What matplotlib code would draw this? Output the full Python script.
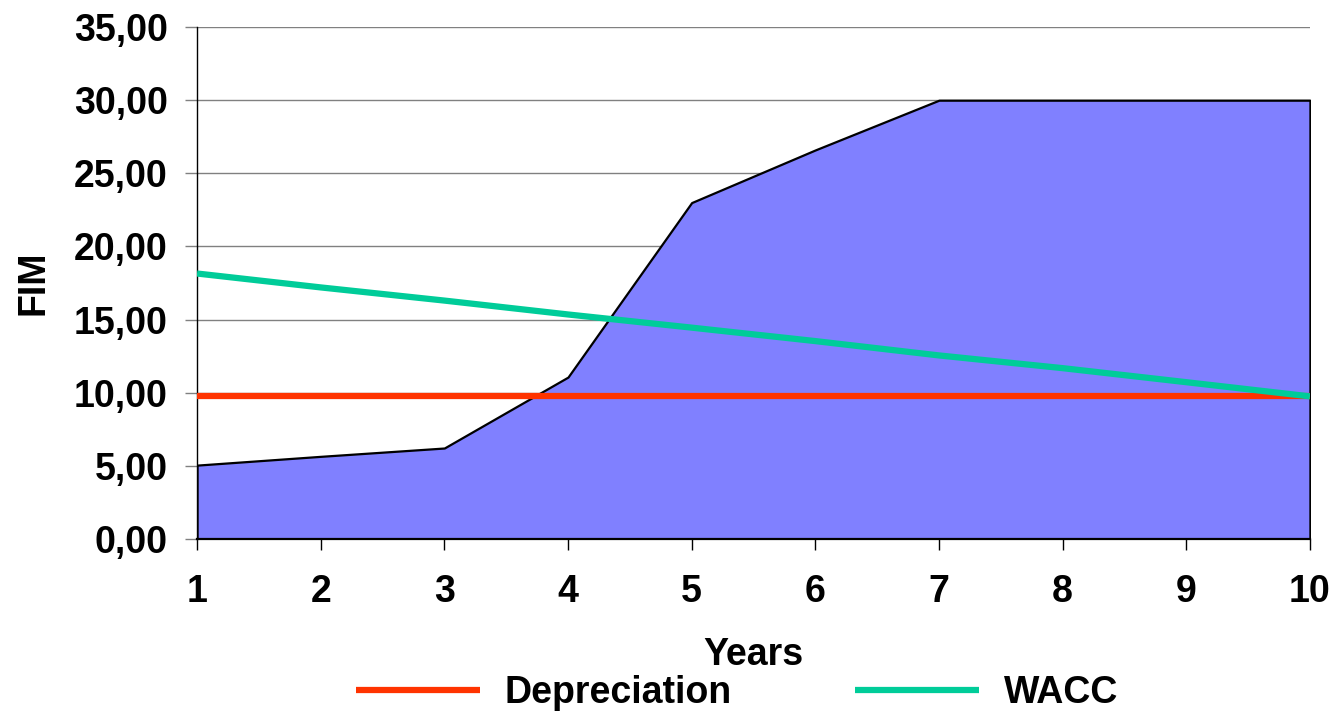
import matplotlib.pyplot as plt
from matplotlib.ticker import FuncFormatter

plt.rcParams['font.family'] = ['Liberation Sans', 'DejaVu Sans']
plt.rcParams['font.weight'] = 'bold'

# data
years = [1, 2, 3, 4, 5, 6, 7, 8, 9, 10]
fim = [5.05, 5.65, 6.22, 11.07, 23.0, 26.6, 30.0, 30.0, 30.0, 30.0]
depreciation = [9.75, 9.75, 9.75, 9.75, 9.75, 9.75, 9.75, 9.75, 9.75, 9.75]
wacc = [18.15, 17.2, 16.3, 15.35, 14.45, 13.53, 12.55, 11.68, 10.72, 9.75]
y_ticks = [0, 5, 10, 15, 20, 25, 30, 35]

fs = 27

fig = plt.figure(figsize=(13.33, 7.12), dpi=100)
ax = fig.add_axes([0.1478, 0.243, 0.8349, 0.719])

ax.fill_between(years, fim, 0, facecolor='#8080FF', edgecolor='black',
                linewidth=1.6, zorder=2)
ax.plot(years, depreciation, color='#FF3300', linewidth=4.5,
        solid_capstyle='butt', label='Depreciation', zorder=3)
ax.plot(years, wacc, color='#00CC99', linewidth=4.5,
        solid_capstyle='butt', label='WACC', zorder=4)

ax.set_xlim(1, 10)
ax.set_ylim(0, 35)
ax.set_xticks(years)
ax.set_yticks(y_ticks)
ax.yaxis.set_major_formatter(FuncFormatter(lambda v, p: f'{v:.2f}'.replace('.', ',')))

ax.grid(axis='y', color='#808080', linewidth=1.0)
ax.set_axisbelow(True)
for side in ('top', 'right'):
    ax.spines[side].set_visible(False)
ax.spines['left'].set_linewidth(1.0)
ax.spines['bottom'].set_linewidth(1.6)

ax.tick_params(axis='y', direction='out', length=9, width=1.0, color='#808080',
               pad=12, labelsize=fs)
ax.tick_params(axis='x', direction='out', length=8, width=1.0, color='black',
               pad=17, labelsize=fs)
for lbl in ax.get_xticklabels() + ax.get_yticklabels():
    lbl.set_fontweight('bold')

ax.set_xlabel('Years', fontsize=fs, fontweight='bold', labelpad=20)
ax.set_ylabel('FIM', fontsize=fs, fontweight='bold', labelpad=16)

fig.legend(loc='center', bbox_to_anchor=(0.553, 0.027), ncol=2, frameon=False,
           handlelength=3.3, handletextpad=0.65, columnspacing=3.3,
           prop={'weight': 'bold', 'size': fs})

fig.savefig('out.png', dpi=100)
